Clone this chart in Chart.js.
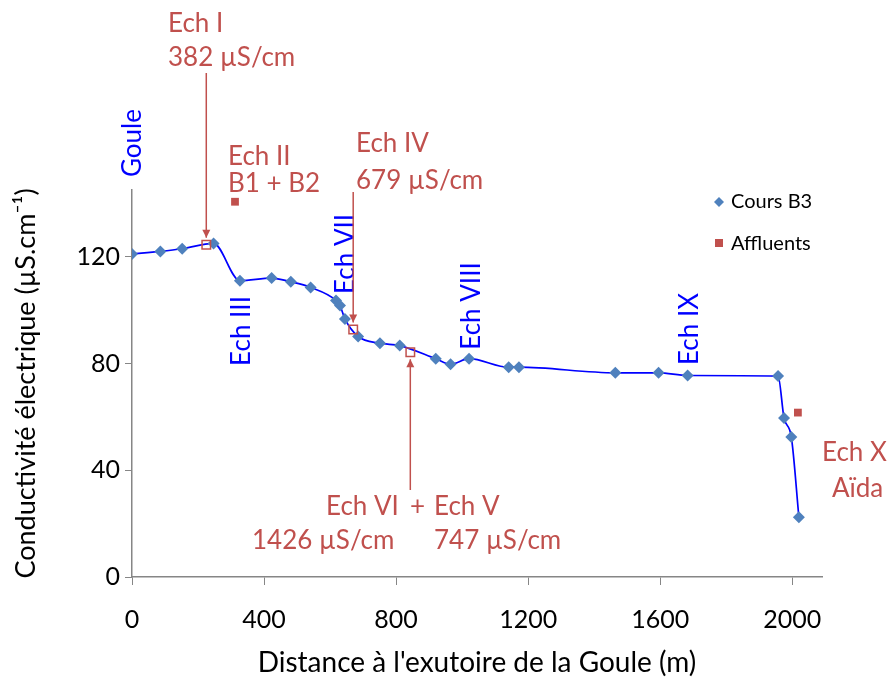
<!DOCTYPE html>
<html>
<head>
<meta charset="utf-8">
<script src="https://cdn.jsdelivr.net/npm/chart.js@4.4.1/dist/chart.umd.min.js"></script>
<style>
  html, body { margin: 0; padding: 0; background: #fff; }
  #wrap { width: 889px; height: 680px; }
</style>
</head>
<body>
<div id="wrap"><canvas id="chart" width="889" height="680"></canvas></div>
<script>
const distB3 = [0, 86, 152, 247, 327, 423, 481, 541, 618, 630, 645, 685, 751, 811, 920, 965, 1021, 1141, 1172, 1464, 1595, 1683, 1957, 1975, 1997, 2020];
const condB3 = [121, 122, 123, 125, 111, 112, 110.6, 108.5, 103.6, 101.7, 96.7, 90.1, 87.6, 86.7, 81.8, 79.7, 81.8, 78.6, 78.6, 76.5, 76.5, 75.5, 75.3, 59.6, 52.5, 22.4];

const distAffluents = [312, 2017];
const condAffluents = [140.6, 61.6];

const distEch = [225, 670, 843];
const condEch = [124.5, 92.7, 84.2];

const xTicks = [0, 400, 800, 1200, 1600, 2000];
const yTicks = [0, 40, 80, 120];

const red = "#c0504d";
const blue = "#0000ff";
const fontFamily = "Lato, 'Open Sans', sans-serif";

function toPoints(xs, ys) {
  return xs.map((x, i) => ({ x, y: ys[i] }));
}

// text labels placed on the picture
const redLabels = [
  ["Ech I", 168, 24],
  ["382 µS/cm", 168, 58],
  ["Ech II", 228, 157],
  ["B1 + B2", 228, 184],
  ["Ech IV", 356, 144],
  ["679 µS/cm", 356, 181],
  ["Ech VI", 326, 507],
  ["+", 410, 507],
  ["Ech V", 434, 507],
  ["1426 µS/cm", 252, 541],
  ["747 µS/cm", 434, 541],
  ["Ech X", 822, 453],
  ["Aïda", 832, 489],
];

const blueLabels = [
  ["Goule", 133, 143],
  ["Ech III", 242, 331],
  ["Ech VII", 346, 254],
  ["Ech VIII", 472, 306],
  ["Ech IX", 690, 329],
];

// arrows: [sample index, start y, pointing down?]
const arrows = [
  [0, 73, true],
  [1, 192, true],
  [2, 490, false],
];

const annotationPlugin = {
  id: "annotations",
  afterDatasetsDraw(chart) {
    const { ctx, scales } = chart;
    ctx.save();
    ctx.font = "26px " + fontFamily;
    ctx.textBaseline = "middle";
    ctx.textAlign = "left";
    ctx.fillStyle = red;
    redLabels.forEach(([text, x, y]) => ctx.fillText(text, x, y));

    ctx.fillStyle = blue;
    ctx.textAlign = "center";
    blueLabels.forEach(([text, x, y]) => {
      ctx.save();
      ctx.translate(x, y);
      ctx.rotate(-Math.PI / 2);
      ctx.fillText(text, 0, 0);
      ctx.restore();
    });

    ctx.strokeStyle = red;
    ctx.fillStyle = red;
    ctx.lineWidth = 1.5;
    arrows.forEach(([index, startY, down]) => {
      const x = scales.x.getPixelForValue(distEch[index]);
      const markerY = scales.y.getPixelForValue(condEch[index]);
      const tipY = down ? markerY - 7 : markerY + 7;
      ctx.beginPath();
      ctx.moveTo(x, startY);
      ctx.lineTo(x, tipY);
      ctx.stroke();
      const dir = down ? -1 : 1;
      ctx.beginPath();
      ctx.moveTo(x, tipY);
      ctx.lineTo(x - 4, tipY + dir * 8);
      ctx.lineTo(x + 4, tipY + dir * 8);
      ctx.closePath();
      ctx.fill();
    });

    // legend
    ctx.font = "20px " + fontFamily;
    ctx.textAlign = "left";
    ctx.fillStyle = "#000";
    ctx.fillText("Cours B3", 731, 202);
    ctx.fillText("Affluents", 731, 244);
    ctx.fillStyle = "#4f81bd";
    ctx.beginPath();
    ctx.moveTo(719, 197);
    ctx.lineTo(724, 202);
    ctx.lineTo(719, 207);
    ctx.lineTo(714, 202);
    ctx.closePath();
    ctx.fill();
    ctx.fillStyle = red;
    ctx.fillRect(715, 239, 8, 8);
    ctx.restore();
  },
};

new Chart(document.getElementById("chart"), {
  type: "scatter",
  data: {
    datasets: [
      {
        label: "Cours B3",
        data: toPoints(distB3, condB3),
        showLine: true,
        borderColor: blue,
        borderWidth: 1.7,
        cubicInterpolationMode: "monotone",
        pointStyle: "rectRot",
        pointRadius: 6,
        pointBackgroundColor: "#4f81bd",
        pointBorderColor: "#4f81bd",
        pointBorderWidth: 0,
        order: 2,
      },
      {
        label: "Affluents",
        data: toPoints(distAffluents, condAffluents),
        pointStyle: "rect",
        pointRadius: 5.5,
        pointBackgroundColor: red,
        pointBorderColor: red,
        pointBorderWidth: 0,
        order: 1,
      },
      {
        label: "Échantillons",
        data: toPoints(distEch, condEch),
        pointStyle: "rect",
        pointRadius: 6,
        pointBackgroundColor: "rgba(255,255,255,0)",
        pointBorderColor: red,
        pointBorderWidth: 1.5,
        order: 0,
      },
    ],
  },
  options: {
    responsive: false,
    animation: false,
    layout: {
      padding: { top: 190, right: 67, left: 0, bottom: 0 },
    },
    plugins: {
      legend: { display: false },
      tooltip: { enabled: false },
    },
    scales: {
      x: {
        type: "linear",
        min: 0,
        max: 2090,
        afterBuildTicks(scale) {
          scale.ticks = xTicks.map((value) => ({ value }));
        },
        afterFit(scale) {
          scale.height = 103;
        },
        grid: {
          drawOnChartArea: false,
          color: "#868686",
          tickLength: 8,
        },
        border: { color: "#868686", width: 1.5 },
        ticks: {
          color: "#000",
          padding: 20,
          font: { size: 25, family: fontFamily },
          callback: (value) => String(value),
        },
        title: {
          display: true,
          text: "Distance à l'exutoire de la Goule (m)",
          color: "#000",
          font: { size: 28, family: fontFamily },
          padding: { top: 0, bottom: 0 },
        },
      },
      y: {
        type: "linear",
        min: 0,
        max: 145,
        afterBuildTicks(scale) {
          scale.ticks = yTicks.map((value) => ({ value }));
        },
        afterFit(scale) {
          scale.width = 132;
        },
        grid: {
          drawOnChartArea: false,
          color: "#868686",
          tickLength: 7,
        },
        border: { color: "#868686", width: 1.5 },
        ticks: {
          color: "#000",
          padding: 5,
          font: { size: 25, family: fontFamily },
          callback: (value) => String(value),
        },
        title: {
          display: true,
          text: "Conductivité électrique (µS.cm⁻¹)",
          color: "#000",
          font: { size: 27, family: fontFamily },
          padding: { top: 10, bottom: 0 },
        },
      },
    },
  },
  plugins: [annotationPlugin],
});
</script>
</body>
</html>
